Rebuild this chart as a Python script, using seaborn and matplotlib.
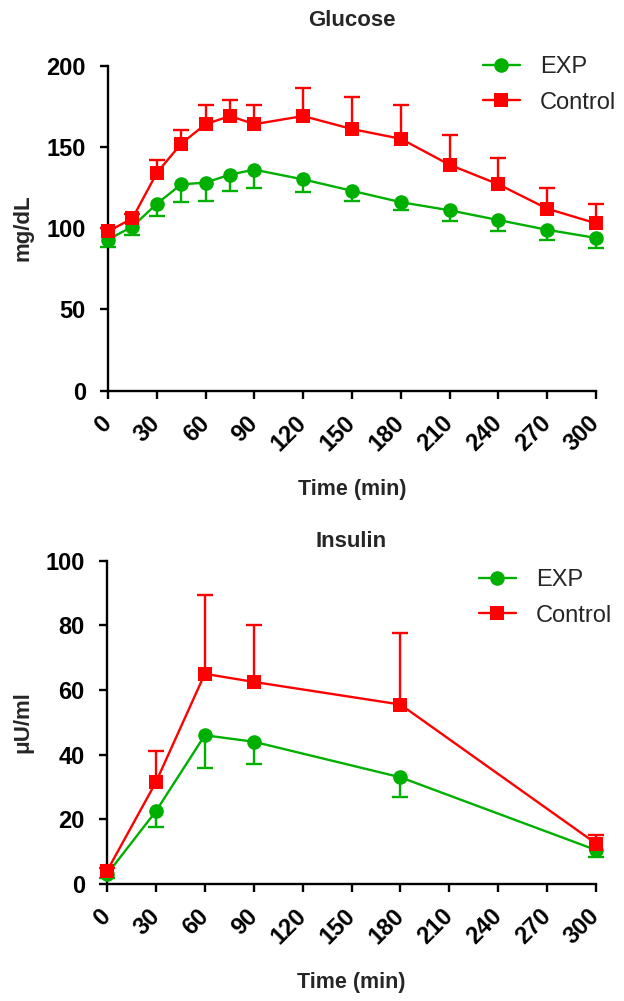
import numpy as np
import pandas as pd
import matplotlib
matplotlib.use('Agg')
import matplotlib.pyplot as plt
import matplotlib.transforms as mtransforms
from matplotlib.lines import Line2D
import seaborn as sns

# Glucose (mg/dL): mean and SEM per time point
glu_time = [0, 15, 30, 45, 60, 75, 90, 120, 150, 180, 210, 240, 270, 300]
glu_exp = [93, 101, 115, 127, 128, 133, 136, 130, 123, 116, 111, 105, 99, 94]
glu_exp_sem = [4.5, 5, 7.5, 11, 11.5, 10, 11, 8, 6.5, 5, 6.5, 6.5, 6.5, 6]
glu_ctl = [98, 106, 134, 152, 164, 169, 164, 169, 161, 155, 139, 127, 112, 103]
glu_ctl_sem = [2, 3, 8, 8.5, 12, 10, 11.5, 17, 20, 21, 18.5, 16, 12.5, 12]

# Insulin (uU/ml): mean and SEM per time point
ins_time = [0, 30, 60, 90, 180, 300]
ins_exp = [3, 22.5, 46, 44, 33, 10.5]
ins_exp_sem = [1, 5, 10, 7, 6, 2]
ins_ctl = [4, 31.5, 65, 62.5, 55.5, 12.5]
ins_ctl_sem = [1, 9.5, 24.5, 17.5, 22, 2.5]

time_ticks = list(range(0, 301, 30))
groups = ['EXP', 'Control']

GREEN = '#00B000'
RED = '#FF0000'
palette = {'EXP': GREEN, 'Control': RED}
markers = {'EXP': 'o', 'Control': 's'}

sns.set_style('ticks')
plt.rcParams['font.family'] = ['Liberation Sans', 'DejaVu Sans']


def long_frame(time, exp, ctl):
    return pd.DataFrame({
        'time': list(time) * 2,
        'value': list(exp) + list(ctl),
        'group': ['EXP'] * len(time) + ['Control'] * len(time),
    })


def draw_panel(ax, time, exp, exp_sem, ctl, ctl_sem, ymax, ystep, title, ylabel, title_pad):
    # one-sided error bars: EXP goes down, Control goes up
    for y, sem, color, side in [(exp, exp_sem, GREEN, 'low'), (ctl, ctl_sem, RED, 'high')]:
        zeros = np.zeros(len(sem))
        yerr = [sem, zeros] if side == 'low' else [zeros, sem]
        eb = ax.errorbar(time, y, yerr=yerr, fmt='none', ecolor=color,
                         elinewidth=1.7, capsize=6, capthick=1.7, zorder=2)
        caps = eb.lines[1]
        caps[1 if side == 'low' else 0].set_visible(False)
        for art in list(caps) + list(eb.lines[2]):
            art.set_clip_on(False)

    df = long_frame(time, exp, ctl)
    sns.lineplot(data=df, x='time', y='value', hue='group', style='group',
                 hue_order=groups, style_order=groups, palette=palette,
                 markers=markers, dashes=False, errorbar=None,
                 markersize=10.5, markeredgewidth=0, linewidth=1.7,
                 legend=False, clip_on=False, zorder=3, ax=ax)

    ax.set_xlim(0, 300)
    ax.set_ylim(0, ymax)
    ax.set_xticks(time_ticks)
    ax.set_yticks(np.arange(0, ymax + 1, ystep))
    sns.despine(ax=ax)
    for side in ['left', 'bottom']:
        ax.spines[side].set_linewidth(1.7)
        ax.spines[side].set_color('black')
    ax.tick_params(axis='both', direction='out', length=6, width=1.7,
                   colors='black', labelsize=17)
    ax.tick_params(axis='y', pad=10)
    ax.tick_params(axis='x', pad=9)

    offset = mtransforms.ScaledTranslation(-8 / 100, 0, ax.figure.dpi_scale_trans)
    for lab in ax.get_xticklabels():
        lab.set_rotation(45)
        lab.set_ha('right')
        lab.set_rotation_mode('anchor')
        lab.set_fontweight('bold')
        lab.set_transform(lab.get_transform() + offset)
    for lab in ax.get_yticklabels():
        lab.set_fontweight('bold')

    ax.set_xlabel('Time (min)', fontsize=15.5, fontweight='bold', labelpad=16.5)
    ax.set_ylabel(ylabel, fontsize=16, fontweight='bold', labelpad=9)
    ax.set_title(title, fontsize=16, fontweight='bold', pad=title_pad)


def add_legend(ax, x, y):
    handles = [Line2D([0], [0], color=palette[g], marker=markers[g], markersize=10.5,
                      markeredgewidth=0, linewidth=1.7) for g in groups]
    ax.legend(handles, groups, loc='upper left', bbox_to_anchor=(x, y),
              bbox_transform=ax.figure.transFigure, frameon=False, fontsize=17,
              handlelength=1.55, handletextpad=0.85, labelspacing=0.58,
              borderpad=0, borderaxespad=0)


fig = plt.figure(figsize=(6.24, 10.01), dpi=100)
ax1 = fig.add_axes([0.1731, 0.6097, 0.782, 0.3247])
ax2 = fig.add_axes([0.1715, 0.1169, 0.7837, 0.323])

draw_panel(ax1, glu_time, glu_exp, glu_exp_sem, glu_ctl, glu_ctl_sem,
           200, 50, 'Glucose', 'mg/dL', 28.5)
draw_panel(ax2, ins_time, ins_exp, ins_exp_sem, ins_ctl, ins_ctl_sem,
           100, 20, 'Insulin', 'μU/ml', 10)

add_legend(ax1, 483 / 624, 1 - 56 / 1001)
add_legend(ax2, 479 / 624, 1 - 569 / 1001)

fig.savefig('out.png', dpi=100)
